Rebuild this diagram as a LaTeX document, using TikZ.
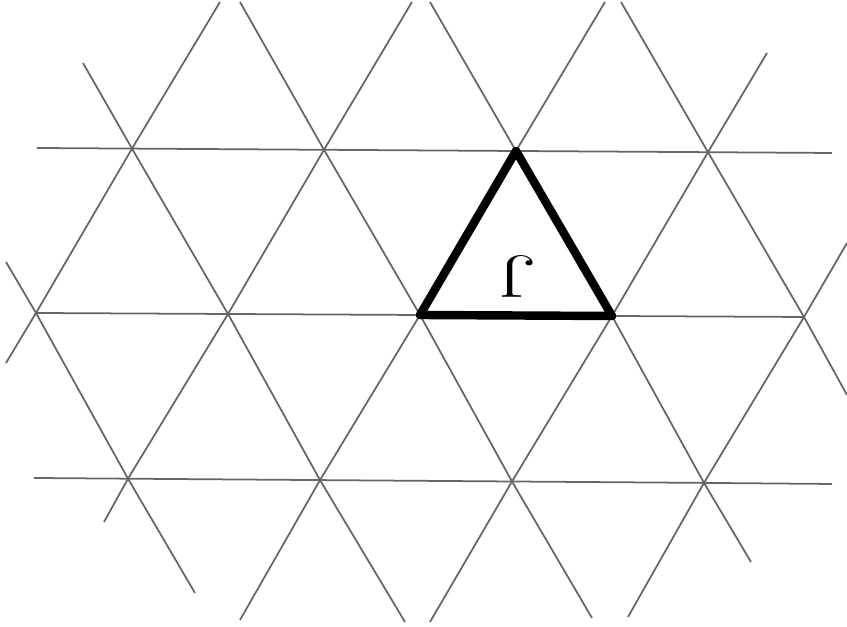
\documentclass[tikz,border=0pt]{standalone}
\begin{document}
\begin{tikzpicture}[x=0.1mm,y=-0.1mm,
    gridline/.style={black!60,line width=0.5pt},
    sideline/.style={black,line width=2.4pt,line join=round,line cap=round}]
\useasboundingbox (0,0) rectangle (847,627);

% lattice points: top, middle and bottom row
\foreach \i in {0,...,3} \coordinate (t\i) at (132+192*\i,148.6+1.2*\i);
\foreach \i in {0,...,4} \coordinate (m\i) at (36+192*\i,313+1.0*\i);
\foreach \i in {0,...,3} \coordinate (b\i) at (128+192*\i,478.7+1.4*\i);

% free ends of the lines
\coordinate (h1w) at (37,148);   \coordinate (h1e) at (832,153);
\coordinate (h3w) at (34,478);   \coordinate (h3e) at (832,484);
\coordinate (r1s) at (6,363);    \coordinate (r1n) at (220,2);
\coordinate (r2s) at (104,522);  \coordinate (r2n) at (412,2);
\coordinate (r3s) at (240,620);  \coordinate (r3n) at (605,2);
\coordinate (r4s) at (430,622);  \coordinate (r4n) at (767,53);
\coordinate (r5s) at (628,617);  \coordinate (r5n) at (847,243);
\coordinate (f1n) at (6,262);    \coordinate (f1s) at (195,593);
\coordinate (f2n) at (83,63);    \coordinate (f2s) at (405,622);
\coordinate (f3n) at (240,2);    \coordinate (f3s) at (592,618);
\coordinate (f4n) at (430,2);    \coordinate (f4s) at (751,562);
\coordinate (f5n) at (621,2);    \coordinate (f5s) at (847,395);

\draw[gridline] (h1w) -- (t0) -- (t1) -- (t2) -- (t3) -- (h1e);
\draw[gridline] (m0) -- (m1) -- (m2) -- (m3) -- (m4);
\draw[gridline] (h3w) -- (b0) -- (b1) -- (b2) -- (b3) -- (h3e);

\draw[gridline] (r1s) -- (m0) -- (t0) -- (r1n);
\draw[gridline] (r2s) -- (b0) -- (m1) -- (t1) -- (r2n);
\draw[gridline] (r3s) -- (b1) -- (m2) -- (t2) -- (r3n);
\draw[gridline] (r4s) -- (b2) -- (m3) -- (t3) -- (r4n);
\draw[gridline] (r5s) -- (b3) -- (m4) -- (r5n);

\draw[gridline] (f1n) -- (m0) -- (b0) -- (f1s);
\draw[gridline] (f2n) -- (t0) -- (m1) -- (b1) -- (f2s);
\draw[gridline] (f3n) -- (t1) -- (m2) -- (b2) -- (f3s);
\draw[gridline] (f4n) -- (t2) -- (m3) -- (b3) -- (f4s);
\draw[gridline] (f5n) -- (t3) -- (m4) -- (f5s);

\draw[sideline] (t2) -- (m2) -- (m3) -- cycle;
\node[rotate=180,xscale=1.4,font=\fontsize{17}{17}\selectfont] (lbl) at (518,276) {J};
\end{tikzpicture}
\end{document}
